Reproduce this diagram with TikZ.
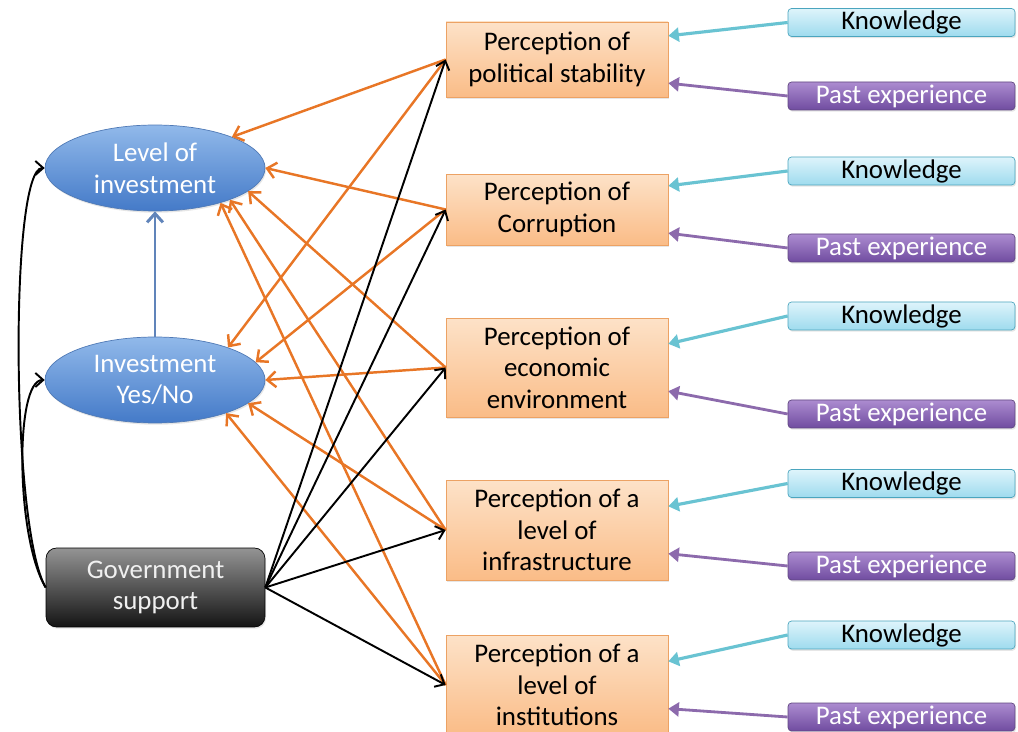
\documentclass[tikz,border=0pt]{standalone}
\usepackage{fontspec}
\setmainfont{Carlito}
\usetikzlibrary{arrows.meta,shapes.geometric,shadows}

\definecolor{perctop}{RGB}{253,226,200}
\definecolor{percbottom}{RGB}{250,188,135}
\definecolor{percborder}{RGB}{236,162,100}
\definecolor{knowtop}{RGB}{222,244,251}
\definecolor{knowbottom}{RGB}{158,219,238}
\definecolor{knowborder}{RGB}{75,165,190}
\definecolor{pasttop}{RGB}{172,140,208}
\definecolor{pastbottom}{RGB}{112,76,160}
\definecolor{pastborder}{RGB}{96,70,128}
\definecolor{invtop}{RGB}{145,185,234}
\definecolor{invbottom}{RGB}{68,122,200}
\definecolor{invborder}{RGB}{80,122,182}
\definecolor{percline}{RGB}{232,118,38}
\definecolor{knowline}{RGB}{105,195,210}
\definecolor{pastline}{RGB}{140,106,172}
\definecolor{blueline}{RGB}{96,132,186}

\tikzset{
  softshadow/.style={drop shadow={shadow xshift=0.6pt, shadow yshift=-1pt, opacity=0.2}},
  percbox/.style={rectangle, draw=percborder, top color=perctop, bottom color=percbottom, softshadow,
    minimum width=4.44cm, inner sep=0pt, align=center, text=black},
  knowbox/.style={rectangle, rounded corners=2pt, draw=knowborder, top color=knowtop, bottom color=knowbottom, softshadow,
    minimum width=4.54cm, minimum height=0.56cm, inner sep=0pt, text=black},
  pastbox/.style={rectangle, rounded corners=2pt, draw=pastborder, top color=pasttop, bottom color=pastbottom, softshadow,
    minimum width=4.54cm, minimum height=0.56cm, inner sep=0pt, text=white},
  invest/.style={ellipse, draw=invborder, top color=invtop, bottom color=invbottom, softshadow,
    minimum width=4.4cm, minimum height=1.72cm, inner sep=0pt, align=center, text=white},
  govbox/.style={rectangle, rounded corners=6pt, draw=black, top color=black!42, bottom color=black!92, softshadow,
    minimum width=4.38cm, minimum height=1.58cm, inner sep=0pt, align=center, text=black!6},
  percarrow/.style={draw=percline, line width=1.4pt, -{Straight Barb[length=5pt,width=9pt]}},
  govarrow/.style={draw=black, line width=1.1pt, -{Straight Barb[length=4.5pt,width=8pt]}},
  knowarrow/.style={draw=knowline, line width=1.8pt, -{Triangle[length=6pt,width=8pt]}},
  pastarrow/.style={draw=pastline, line width=1.6pt, -{Triangle[length=6pt,width=8pt]}},
  bluearrow/.style={draw=blueline, line width=1.7pt, -{Straight Barb[length=5pt,width=9pt]}}
}

\begin{document}
\begin{tikzpicture}[x=0.02cm, y=-0.02cm, font=\fontsize{15.3}{18}\selectfont]
\useasboundingbox (0,0) rectangle (1018,732);
\clip (0,0) rectangle (1018,732);

%investment and government support
\node[invest] (lvl) at (155,168) {Level of\\investment};
\node[invest] (inv) at (155,380) {Investment\\Yes/No};
\node[govbox] (gov) at (155.5,587.5) {Government\\support};

%perceptions
\node[percbox, minimum height=1.5cm] (pol) at (557,59.5) {Perception of\\political stability};
\node[percbox, minimum height=1.42cm] (cor) at (557,209.5) {Perception of\\Corruption};
\node[percbox, minimum height=1.98cm] (eco) at (557,367.5) {Perception of\\economic\\environment};
\node[percbox, minimum height=2cm] (inf) at (557,530) {Perception of a\\level of\\infrastructure};
\node[percbox, minimum height=2cm] (ins) at (557,685) {Perception of a\\level of\\institutions};

%knowledge and past experience
\foreach \n/\y in {1/22.5,2/171,3/316,4/483.5,5/635} \node[knowbox] (kn\n) at (901.5,\y) {Knowledge};
\foreach \n/\y in {1/96,2/248,3/414,4/566,5/717} \node[pastbox] (pe\n) at (901.5,\y) {Past experience};

\foreach \p/\n in {pol/1,cor/2,eco/3,inf/4,ins/5} {
  \draw[knowarrow] (kn\n.west) -- (\p.12);
  \draw[pastarrow] (pe\n.west) -- (\p.-12);
}

%perceptions to investment
\foreach \p/\a/\c in {pol/22/24,cor/0/10,eco/-14/0,inf/-23/-14,ins/-28/-25} {
  \draw[percarrow] (\p.west) -- (lvl.\a);
  \draw[percarrow] (\p.west) -- (inv.\c);
}

%government support
\foreach \p in {pol,cor,eco,inf,ins} \draw[govarrow] (gov.east) -- (\p.west);
\draw[govarrow] (gov.west) .. controls +(-35,-60) and +(-35,0) .. (lvl.west);
\draw[govarrow] (gov.west) .. controls +(-30,-50) and +(-30,0) .. (inv.west);

\draw[bluearrow] (inv.north) -- (lvl.south);

\end{tikzpicture}
\end{document}
